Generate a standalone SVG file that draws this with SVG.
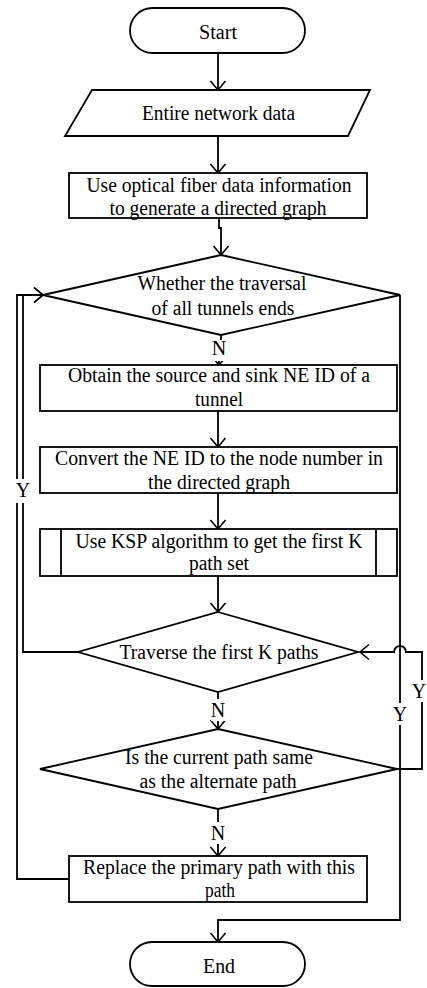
<svg xmlns="http://www.w3.org/2000/svg" width="427" height="988" viewBox="0 0 427 988">
<defs>
<marker id="arr" markerWidth="12" markerHeight="18" refX="10" refY="8" orient="auto" markerUnits="userSpaceOnUse" viewBox="0 0 12 16">
<path d="M1,0.5 L10,8 L1,15.5" fill="none" stroke="#000" stroke-width="1.6"/>
</marker>
</defs>
<style>
.s{fill:#fff;stroke:#000;stroke-width:1.8}
.c{fill:none;stroke:#000;stroke-width:1.8}
.t{font-family:"Liberation Serif","Times New Roman",serif;font-size:20px;fill:#000;text-anchor:middle}
.bg{fill:#fff;stroke:none}
</style>
<rect width="427" height="988" fill="#fff"/>
<g id="connectors">
<path class="c" d="M218,53 V90" marker-end="url(#arr)"/>
<path class="c" d="M218,136 V173" marker-end="url(#arr)"/>
<path class="c" d="M219,218 V228 H221 V255" marker-end="url(#arr)"/>
<path class="c" d="M221,335 V342 H219 V365" marker-end="url(#arr)"/>
<path class="c" d="M218,411 V447" marker-end="url(#arr)"/>
<path class="c" d="M218,493 V529" marker-end="url(#arr)"/>
<path class="c" d="M218,576 V612" marker-end="url(#arr)"/>
<path class="c" d="M218,692 V729" marker-end="url(#arr)"/>
<path class="c" d="M218,809 V856" marker-end="url(#arr)"/>
<path class="c" d="M78,652 H23 V295 H43" marker-end="url(#arr)"/>
<path class="c" d="M69,879 H17 V295 H43" marker-end="url(#arr)"/>
<path class="c" d="M400,295 V920 H218 V942" marker-end="url(#arr)"/>
<path class="c" d="M397,769 H422 V652 H406 A6,6 0 0 0 394,652 H360" marker-end="url(#arr)"/>
</g>
<g id="start"><rect class="s" x="130" y="8" width="175" height="45" rx="22.5"/><text class="t" x="218" y="39" textLength="38" lengthAdjust="spacingAndGlyphs">Start</text></g>
<g id="input"><polygon class="s" points="92,90 370,90 348,136 65,136"/><text class="t" x="218.5" y="120" textLength="153" lengthAdjust="spacingAndGlyphs">Entire network data</text></g>
<g id="gen"><rect class="s" x="69" y="173" width="298" height="45"/><text class="t" x="219" y="192" textLength="265" lengthAdjust="spacingAndGlyphs">Use optical fiber data information</text><text class="t" x="218" y="215" textLength="217" lengthAdjust="spacingAndGlyphs">to generate a directed graph</text></g>
<g id="d1"><polygon class="s" points="221,255 400,295 221,335 43,295"/><text class="t" x="222" y="290" textLength="169" lengthAdjust="spacingAndGlyphs">Whether the traversal</text><text class="t" x="223" y="315" textLength="143" lengthAdjust="spacingAndGlyphs">of all tunnels ends</text></g>
<g id="obtain"><rect class="s" x="40" y="365" width="357" height="46"/><text class="t" x="219" y="382" textLength="302" lengthAdjust="spacingAndGlyphs">Obtain the source and sink NE ID of a</text><text class="t" x="219" y="406" textLength="48" lengthAdjust="spacingAndGlyphs">tunnel</text></g>
<g id="convert"><rect class="s" x="40" y="447" width="357" height="46"/><text class="t" x="219" y="465" textLength="328" lengthAdjust="spacingAndGlyphs">Convert the NE ID to the node number in</text><text class="t" x="219" y="489" textLength="142" lengthAdjust="spacingAndGlyphs">the directed graph</text></g>
<g id="ksp"><rect class="s" x="40" y="529" width="357" height="47"/><line class="c" x1="61" y1="529" x2="61" y2="576"/><line class="c" x1="376" y1="529" x2="376" y2="576"/><text class="t" x="219" y="548" textLength="287" lengthAdjust="spacingAndGlyphs">Use KSP algorithm to get the first K</text><text class="t" x="219" y="570" textLength="60" lengthAdjust="spacingAndGlyphs">path set</text></g>
<g id="traverse"><polygon class="s" points="218,612 358,652 218,692 78,652"/><text class="t" x="219" y="659" textLength="199" lengthAdjust="spacingAndGlyphs">Traverse the first K paths</text></g>
<g id="d3"><polygon class="s" points="218,729 397,769 218,809 40,769"/><text class="t" x="219" y="764" textLength="188" lengthAdjust="spacingAndGlyphs">Is the current path same</text><text class="t" x="218" y="788" textLength="157" lengthAdjust="spacingAndGlyphs">as the alternate path</text></g>
<g id="replace"><rect class="s" x="69" y="856" width="298" height="46"/><text class="t" x="219" y="874" textLength="272" lengthAdjust="spacingAndGlyphs">Replace the primary path with this</text><text class="t" x="220" y="897" textLength="30" lengthAdjust="spacingAndGlyphs">path</text></g>
<g id="end"><rect class="s" x="130" y="942" width="175" height="44" rx="22"/><text class="t" x="219" y="973" textLength="32" lengthAdjust="spacingAndGlyphs">End</text></g>
<g id="labels">
<rect class="bg" x="211" y="340" width="16" height="21"/><text class="t" x="219" y="355">N</text>
<rect class="bg" x="211" y="699" width="16" height="22"/><text class="t" x="218" y="717">N</text>
<rect class="bg" x="211" y="822" width="16" height="22"/><text class="t" x="218" y="840">N</text>
<rect class="bg" x="13" y="479" width="20" height="24"/><text class="t" x="23" y="497">Y</text>
<rect class="bg" x="392" y="703" width="16" height="22"/><text class="t" x="400" y="721">Y</text>
<rect class="bg" x="411" y="680" width="16" height="22"/><text class="t" x="419" y="698">Y</text>
</g>
</svg>
